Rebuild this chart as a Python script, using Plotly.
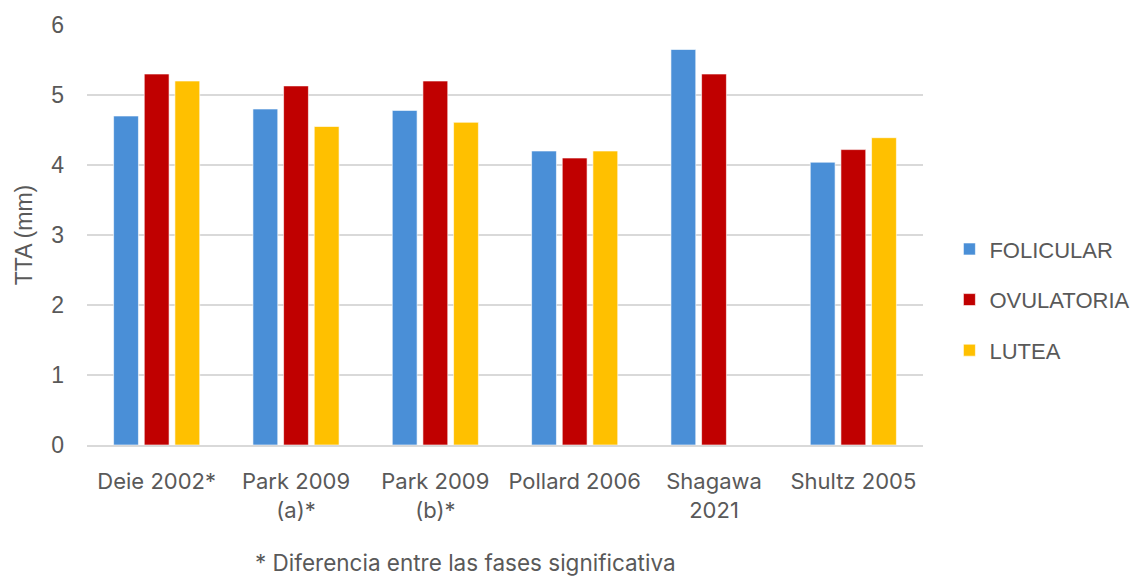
import plotly.graph_objects as go

# Studies (x categories) and TTA measurements (mm) per menstrual phase
studies = ["Deie 2002*", "Park 2009<br>(a)*", "Park 2009<br>(b)*", "Pollard 2006", "Shagawa<br>2021", "Shultz 2005"]
folicular = [4.70, 4.80, 4.78, 4.20, 5.65, 4.04]
ovulatoria = [5.30, 5.13, 5.20, 4.10, 5.30, 4.22]
lutea = [5.20, 4.55, 4.61, 4.20, None, 4.39]

series_names = ["FOLICULAR", "OVULATORIA", "LUTEA"]
series_values = [folicular, ovulatoria, lutea]
series_colors = ["#4A8FD7", "#C00000", "#FFC000"]
y_ticks = [0, 1, 2, 3, 4, 5, 6]

TEXT = "#595959"
GRID = "#D9D9D9"

fig = go.Figure()
for name, vals, color in zip(series_names, series_values, series_colors):
    fig.add_trace(go.Bar(
        x=studies, y=vals, name=name, legendgroup=name,
        marker=dict(color=color, line=dict(color="rgba(255,255,255,0.6)", width=1)),
    ))

fig.update_layout(
    width=1134, height=577,
    paper_bgcolor="white", plot_bgcolor="white",
    margin=dict(l=87, r=211, t=25, b=132, autoexpand=False),
    barmode="group", bargap=0.34, bargroupgap=0.19,
    font=dict(family="Inter, Liberation Sans, sans-serif", color=TEXT, size=22),
    legend=dict(
        x=1.0316, xanchor="left", y=0.346, yanchor="middle",
        font=dict(family="Liberation Sans, Arial, sans-serif", size=22, color=TEXT),
        tracegroupgap=19, bgcolor="rgba(0,0,0,0)",
    ),
    xaxis=dict(
        showgrid=False, showline=True, linecolor=GRID, linewidth=2,
        tickfont=dict(family="Inter, sans-serif", size=22, color=TEXT),
        ticklabelstandoff=16,
    ),
    yaxis=dict(
        range=[0, 6], tickvals=y_ticks, showgrid=True, gridcolor=GRID, gridwidth=2,
        zeroline=False, showline=False,
        tickfont=dict(family="Liberation Sans, Arial, sans-serif", size=23, color=TEXT),
        ticklabelstandoff=22,
        title=dict(text="TTA (mm)", font=dict(family="Liberation Sans, Arial, sans-serif", size=23, color=TEXT), standoff=12),
    ),
    annotations=[dict(
        text="* Diferencia entre las fases significativa",
        xref="paper", yref="paper", x=0.453, y=(444.5 - 562) / 420,
        xanchor="center", yanchor="middle", showarrow=False,
        font=dict(family="Inter, sans-serif", size=22.5, color=TEXT),
    )],
)

fig.write_html("out.html")
